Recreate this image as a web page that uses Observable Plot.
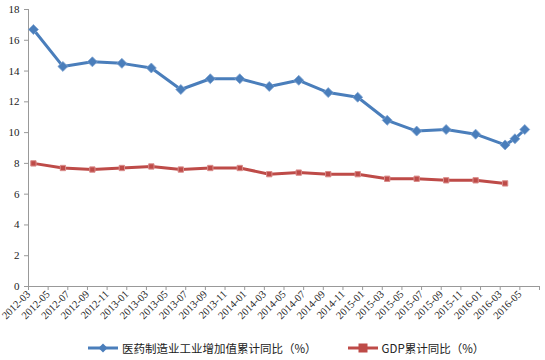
<!DOCTYPE html>
<html><head><meta charset="utf-8">
<script src="https://cdn.jsdelivr.net/npm/d3@7"></script>
<script src="https://cdn.jsdelivr.net/npm/@observablehq/plot@0.6"></script>
<style>
body{margin:0;background:#fff;}
#chart{width:545px;height:360px;position:relative;overflow:hidden;}
#chart svg.plot{display:block;}
.legend{display:flex;align-items:center;height:25px;padding-left:88px;font-family:"Noto Sans CJK SC","Noto Sans",sans-serif;font-size:11.5px;color:#222;white-space:nowrap;}
.legend .item{display:flex;align-items:center;}
.legend svg{display:block;margin-right:4px;}
</style></head><body><div id="chart"></div>
<script>
// 医药制造业工业增加值累计同比（%）
const pharmaMonths = ["2012-03","2012-06","2012-09","2012-12","2013-03","2013-06","2013-09","2013-12","2014-03","2014-06","2014-09","2014-12","2015-03","2015-06","2015-09","2015-12","2016-03","2016-04","2016-05"];
const pharmaValues = [16.7,14.3,14.6,14.5,14.2,12.8,13.5,13.5,13.0,13.4,12.6,12.3,10.8,10.1,10.2,9.9,9.2,9.6,10.2];
// GDP累计同比（%）
const gdpMonths = ["2012-03","2012-06","2012-09","2012-12","2013-03","2013-06","2013-09","2013-12","2014-03","2014-06","2014-09","2014-12","2015-03","2015-06","2015-09","2015-12","2016-03"];
const gdpValues = [8.0,7.7,7.6,7.7,7.8,7.6,7.7,7.7,7.3,7.4,7.3,7.3,7.0,7.0,6.9,6.9,6.7];
const xTickLabels = ["2012-03","2012-05","2012-07","2012-09","2012-11","2013-01","2013-03","2013-05","2013-07","2013-09","2013-11","2014-01","2014-03","2014-05","2014-07","2014-09","2014-11","2015-01","2015-03","2015-05","2015-07","2015-09","2015-11","2016-01","2016-03","2016-05"];
const yTicks = [0,2,4,6,8,10,12,14,16,18];
const seriesNames = ["医药制造业工业增加值累计同比（%）","GDP累计同比（%）"];

const BLUE = "#4A7EBB", RED = "#BE4B48";
// months since 2012-03 (mid-month for data points)
const monthIndex = s => { const [y, m] = s.split("-").map(Number); return (y - 2012) * 12 + (m - 3); };
const pharma = pharmaMonths.map((m, i) => ({x: monthIndex(m) + 0.5, y: pharmaValues[i]}));
const gdp = gdpMonths.map((m, i) => ({x: monthIndex(m) + 0.5, y: gdpValues[i]}));
const tickPos = d3.range(0, xTickLabels.length + 1).map(i => i * 2);

const chart = Plot.plot({
  width: 545, height: 335,
  marginLeft: 28, marginRight: 6, marginTop: 9, marginBottom: 49,
  x: {domain: [0, tickPos[tickPos.length - 1]], axis: null, label: null},
  y: {domain: [0, 18], axis: null, label: null},
  style: {fontFamily: "'Liberation Serif', serif", fontSize: "10.5px", color: "#222", background: "#fff", overflow: "visible"},
  marks: [
    Plot.axisY({ticks: yTicks, tickSize: 4, tickPadding: 5, tickFormat: d => d, stroke: "#999", fill: "#222", label: null, fontSize: 11}),
    Plot.axisX({ticks: tickPos, tickSize: 4, tickPadding: 2, tickRotate: -45, label: null,
      tickFormat: d => xTickLabels[d / 2] ?? "", stroke: "#999", fill: "#222"}),
    Plot.ruleX([0], {stroke: "#999"}),
    Plot.ruleY([0], {stroke: "#999"}),
    Plot.line(gdp, {x: "x", y: "y", stroke: RED, strokeWidth: 3}),
    Plot.dot(gdp, {x: "x", y: "y", symbol: "square", r: 3, fill: RED, stroke: "#D98C8A", strokeWidth: 1}),
    Plot.line(pharma, {x: "x", y: "y", stroke: BLUE, strokeWidth: 3}),
    Plot.dot(pharma, {x: "x", y: "y", symbol: "diamond2", r: 4.5, fill: BLUE, stroke: "#7FA3D1", strokeWidth: 0.8})
  ]
});
const root = document.getElementById("chart");
root.appendChild(chart);

const legend = document.createElement("div");
legend.className = "legend";
const items = [
  {name: seriesNames[0], color: BLUE, shape: "diamond"},
  {name: seriesNames[1], color: RED, shape: "square"}
];
items.forEach((it, i) => {
  const d = document.createElement("div");
  d.className = "item";
  if (i > 0) d.style.marginLeft = "31px";
  const mk = it.shape === "diamond"
    ? `<path d="M15 1.5 L19.5 6 L15 10.5 L10.5 6 Z" fill="${it.color}"/>`
    : `<rect x="10.5" y="1.5" width="9" height="9" fill="${it.color}"/>`;
  d.innerHTML = `<svg width="30" height="12"><line x1="0" x2="30" y1="6" y2="6" stroke="${it.color}" stroke-width="3"/>${mk}</svg><span>${it.name}</span>`;
  legend.appendChild(d);
});
root.appendChild(legend);
</script>
</body></html>
